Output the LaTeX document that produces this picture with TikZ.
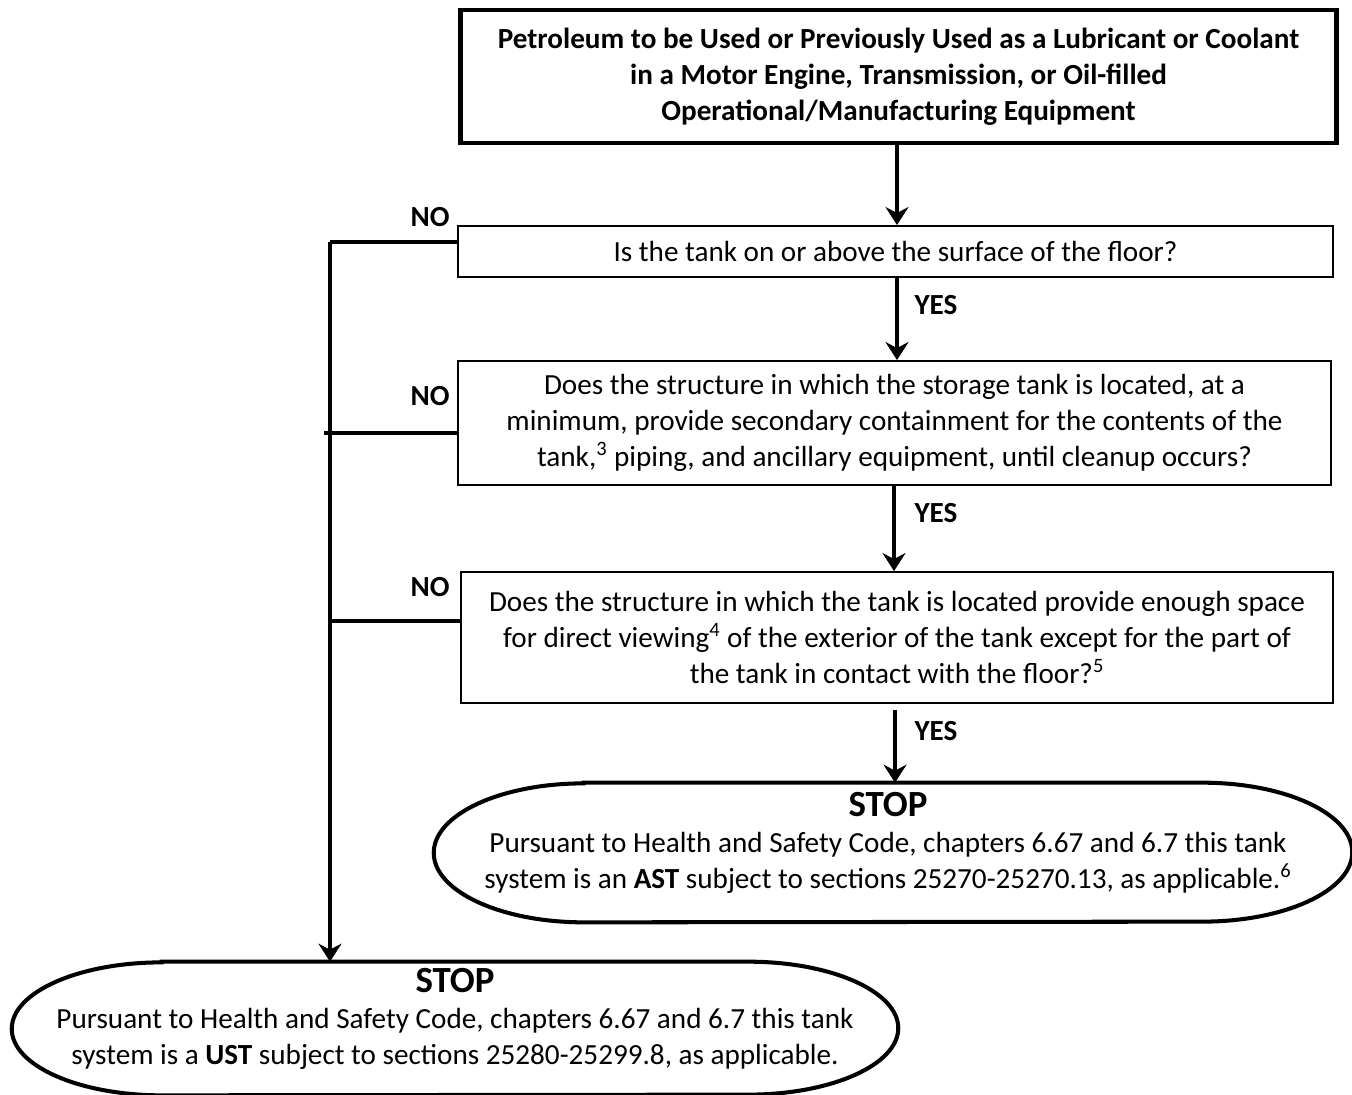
\documentclass[tikz,border=0pt]{standalone}
\usepackage{fontspec}
\setmainfont{Carlito}
\usepackage{tikz}
\usetikzlibrary{arrows.meta}
\definecolor{ink}{HTML}{000000}

\begin{document}
\begin{tikzpicture}[x=0.02cm,y=-0.02cm,
	every node/.style={font=\fontsize{16.6}{20.4}\selectfont, text=ink},
	qbox/.style={draw=ink, line width=1.1pt, align=center, inner sep=0pt},
	ovalline/.style={draw=ink, line width=2.3pt},
	conn/.style={draw=ink, line width=2.2pt},
	arr/.style={conn, -{Stealth[length=0.36cm,width=0.46cm,inset=0.12cm]}},
	lbl/.style={font=\fontsize{16.6}{20.4}\selectfont\bfseries}]
	\useasboundingbox (0,0) rectangle (1352,1095);

	% boxes
	\node[qbox, line width=2.8pt, minimum width=17.54cm, minimum height=2.66cm, font=\fontsize{16.6}{20.4}\selectfont\bfseries] (top) at (898.5,76.5)
		{Petroleum to be Used or Previously Used as a Lubricant or Coolant\\ in a Motor Engine, Transmission, or Oil-filled\\ Operational/Manufacturing Equipment};
	\node[qbox, minimum width=17.5cm, minimum height=1.02cm] (q1) at (895.5,251.5)
		{Is the tank on or above the surface of the floor?};
	\node[qbox, minimum width=17.46cm, minimum height=2.48cm] (q2) at (894.5,423)
		{Does the structure in which the storage tank is located, at a\\ minimum, provide secondary containment for the contents of the\\ tank,\textsuperscript{3} piping, and ancillary equipment, until cleanup occurs?};
	\node[qbox, minimum width=17.44cm, minimum height=2.62cm] (q3) at (897,637.5)
		{Does the structure in which the tank is located provide enough space\\ for direct viewing\textsuperscript{4} of the exterior of the tank except for the part of\\ the tank in contact with the floor?\textsuperscript{5}};

	% stop ovals
	\node[minimum width=18.36cm, minimum height=2.78cm, inner sep=0pt] (ast) at (893,852.5) {};
	\draw[ovalline] ([xshift=3cm]ast.north west) -- ([xshift=-3cm]ast.north east)
		arc[start angle=90, end angle=-90, x radius=3cm, y radius=1.39cm]
		-- ([xshift=3cm]ast.south west)
		arc[start angle=270, end angle=90, x radius=3cm, y radius=1.39cm] -- cycle;
	\node[align=center] (asttxt) at (888,843)
		{{\fontsize{21}{24}\selectfont\bfseries STOP}\\ Pursuant to Health and Safety Code, chapters 6.67 and 6.7 this tank\\ system is an \textbf{AST} subject to sections 25270-25270.13, as applicable.\textsuperscript{6}};
	\node[minimum width=17.72cm, minimum height=2.66cm, inner sep=0pt] (ust) at (455,1028.5) {};
	\draw[ovalline] ([xshift=3cm]ust.north west) -- ([xshift=-3cm]ust.north east)
		arc[start angle=90, end angle=-90, x radius=3cm, y radius=1.33cm]
		-- ([xshift=3cm]ust.south west)
		arc[start angle=270, end angle=90, x radius=3cm, y radius=1.33cm] -- cycle;
	\node[align=center] (usttxt) at (455,1019)
		{{\fontsize{21}{24}\selectfont\bfseries STOP}\\ Pursuant to Health and Safety Code, chapters 6.67 and 6.7 this tank\\ system is a \textbf{UST} subject to sections 25280-25299.8, as applicable.};

	% yes path
	\draw[arr] (top.south -| 897,0) -- (q1.north -| 897,0);
	\draw[arr] (q1.south -| 897,0) -- (q2.north -| 897,0);
	\draw[arr] (q2.south -| 894,0) -- (q3.north -| 894,0);
	\draw[arr] ([yshift=-0.12cm]q3.south -| 895,0) -- (ast.north -| 895,0);
	\node[lbl] (yes1) at (936,305) {YES};
	\node[lbl] (yes2) at (936,513) {YES};
	\node[lbl] (yes3) at (936,731) {YES};

	% no path
	\coordinate (trunk) at (330,242);
	\draw[conn] ([yshift=0.19cm]q1.west) -- (trunk);
	\draw[arr] (trunk) -- (trunk |- ust.north);
	\draw[conn] ([yshift=-0.2cm]q2.west) -- ++(-133,0);
	\draw[conn] ([yshift=0.33cm]q3.west) -- ++(-131,0);
	\node[lbl] (no1) at (430,217) {NO};
	\node[lbl] (no2) at (430,396) {NO};
	\node[lbl] (no3) at (430,587) {NO};
\end{tikzpicture}
\end{document}
